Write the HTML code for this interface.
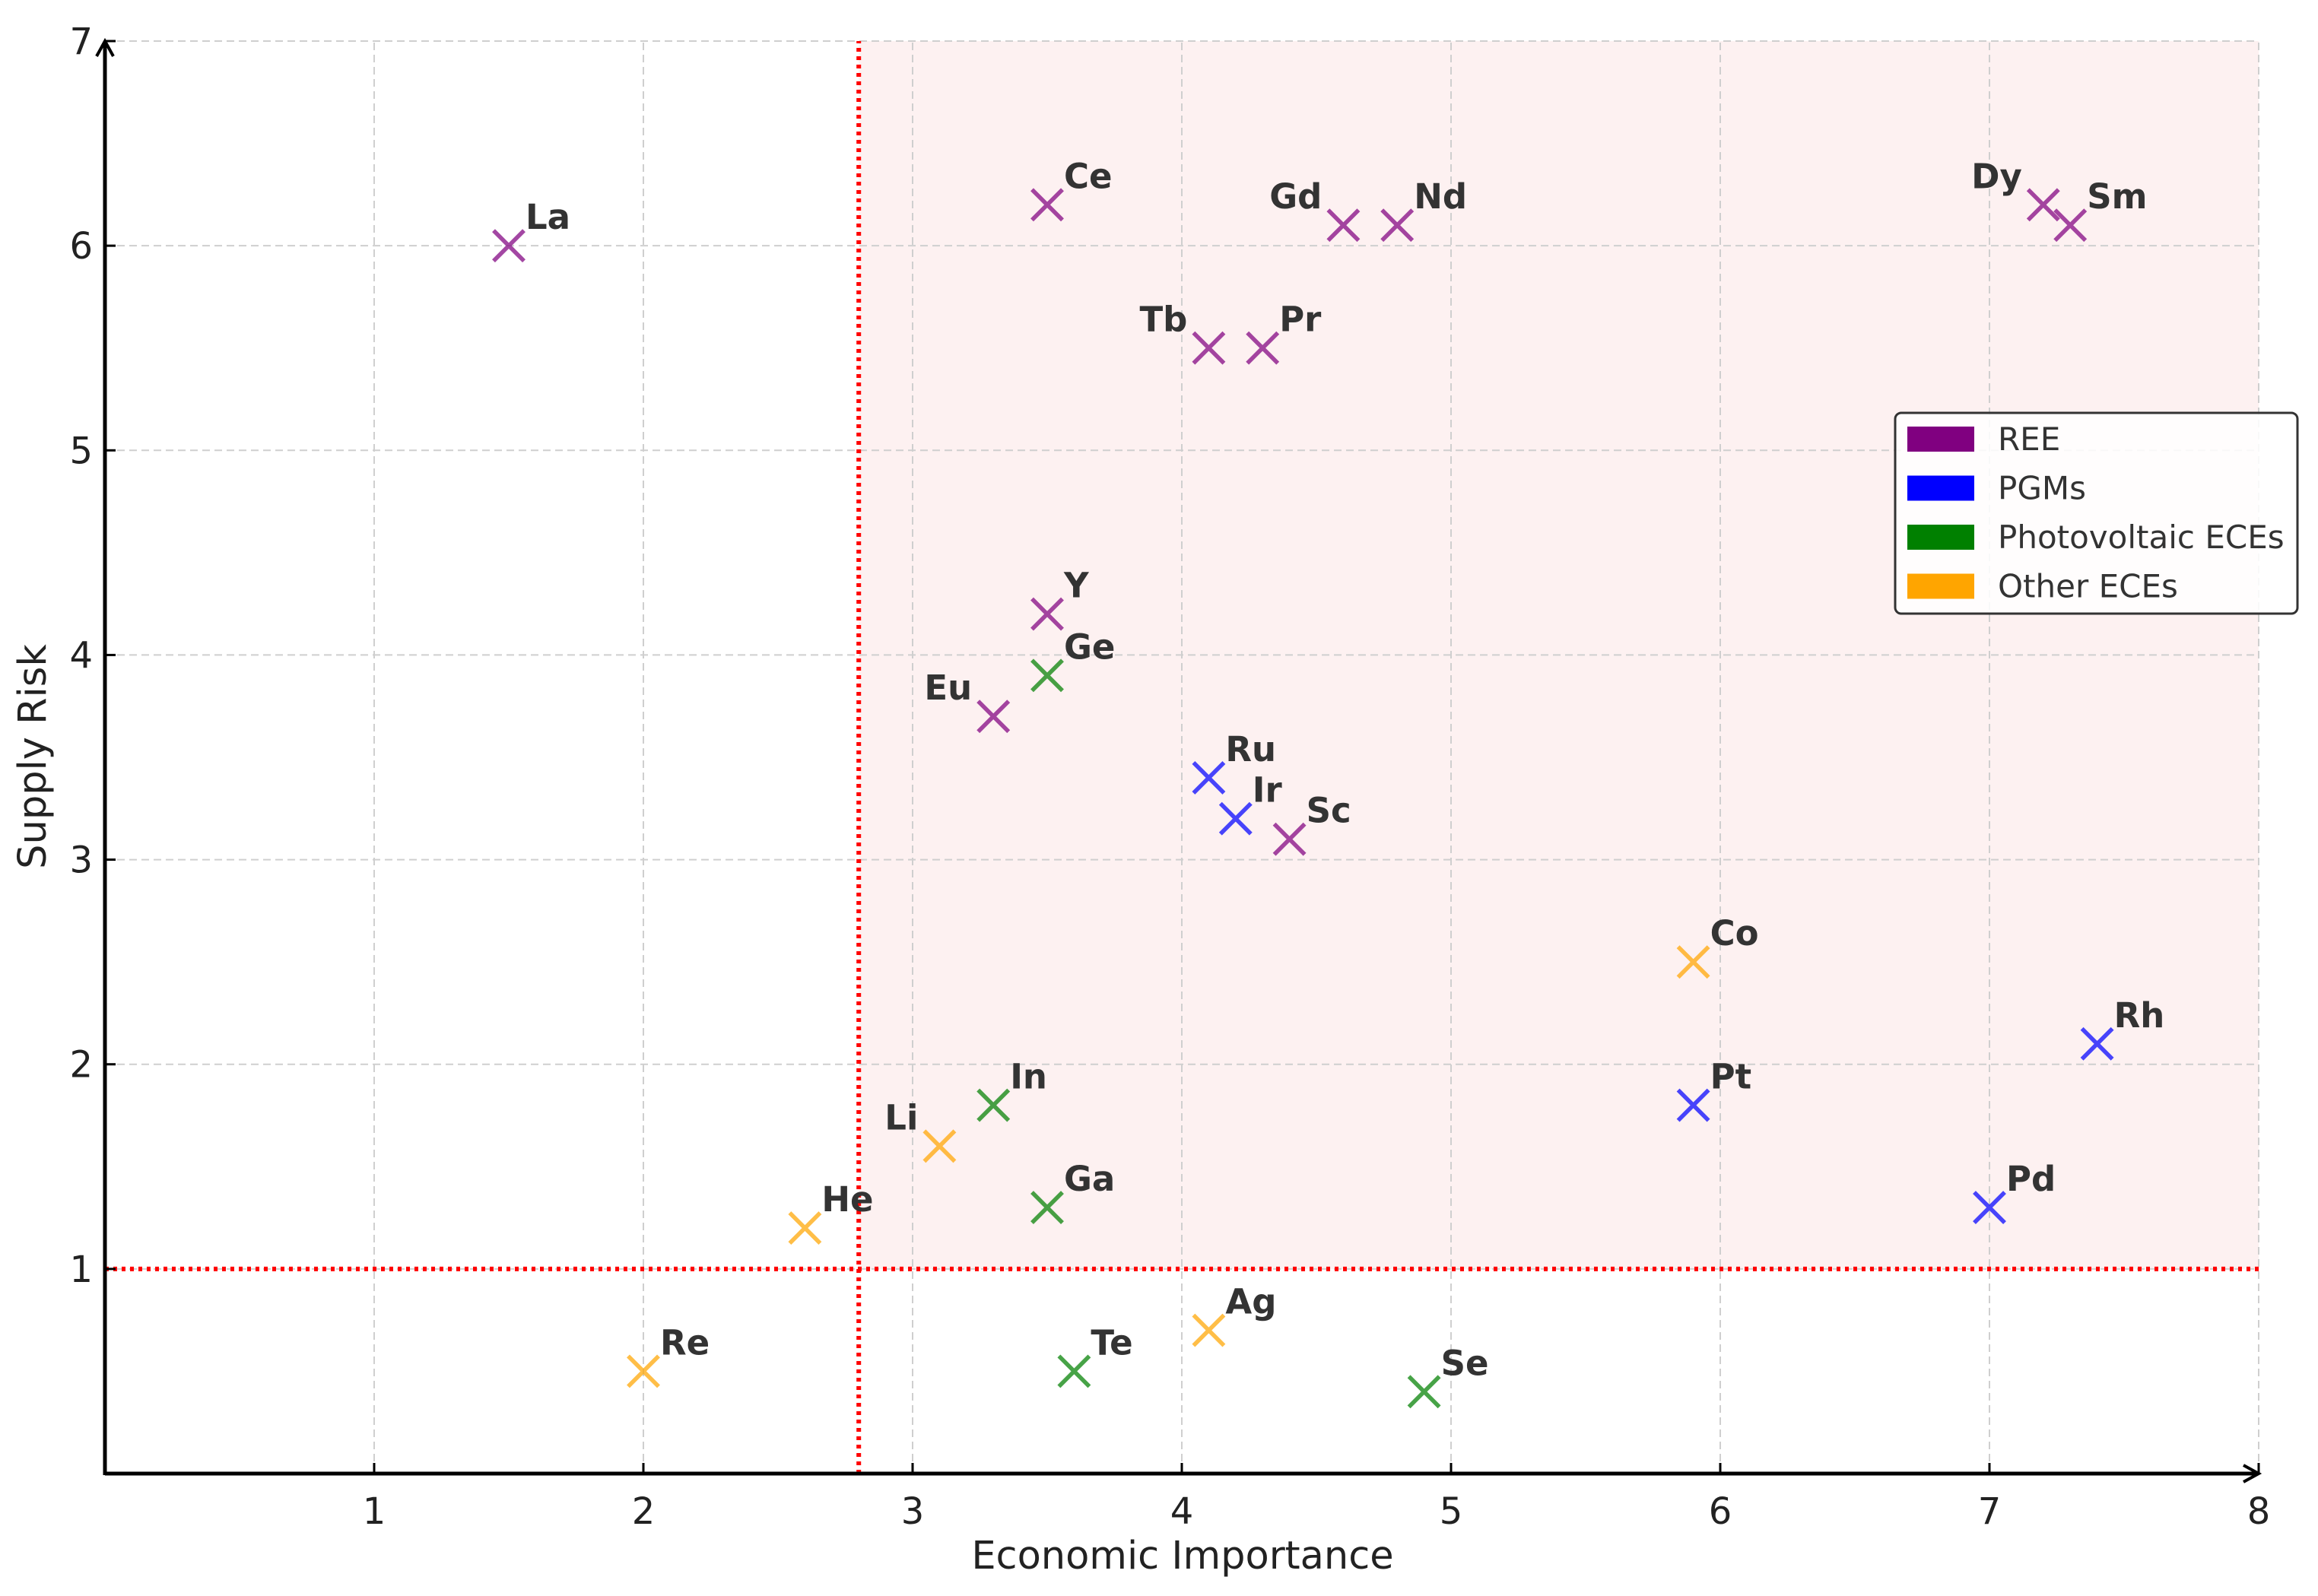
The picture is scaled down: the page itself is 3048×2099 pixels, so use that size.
<!DOCTYPE html>
<html><head><meta charset="utf-8"><style>
html,body{margin:0;padding:0;background:#fff;}
svg{display:block;font-family:"DejaVu Sans","Liberation Sans",sans-serif;}
</style></head><body>
<svg id="chart" width="3048" height="2099" viewBox="0 0 3048 2099" xmlns="http://www.w3.org/2000/svg"></svg>
<script>
const reeNames=["La","Ce","Gd","Nd","Dy","Sm","Tb","Pr","Y","Eu","Sc"];
const reeX=[1.5,3.5,4.6,4.8,7.2,7.3,4.1,4.3,3.5,3.3,4.4];
const reeY=[6.0,6.2,6.1,6.1,6.2,6.1,5.5,5.5,4.2,3.7,3.1];
const pgmNames=["Ru","Ir","Rh","Pt","Pd"];
const pgmX=[4.1,4.2,7.4,5.9,7.0];
const pgmY=[3.4,3.2,2.1,1.8,1.3];
const pvNames=["Ge","In","Ga","Te","Se"];
const pvX=[3.5,3.3,3.5,3.6,4.9];
const pvY=[3.9,1.8,1.3,0.5,0.4];
const otherNames=["Co","Li","He","Re","Ag"];
const otherX=[5.9,3.1,2.6,2.0,4.1];
const otherY=[2.5,1.6,1.2,0.5,0.7];
const leftLabels=["Gd","Tb","Eu","Li","Dy"];
const xTicks=[1,2,3,4,5,6,7,8];
const yTicks=[1,2,3,4,5,6,7];
const thresholdX=2.8;
const thresholdY=1;
const legendLabels=["REE","PGMs","Photovoltaic ECEs","Other ECEs"];

const X0=138,X1=2970,Y0=1938,Y1=54,XMAX=8,YMAX=7;
function sx(v){return X0+(X1-X0)*v/XMAX;}
function sy(v){return Y0-(Y0-Y1)*v/YMAX;}
const NS="http://www.w3.org/2000/svg";
const svg=document.getElementById('chart');
function el(tag,attrs,parent){const e=document.createElementNS(NS,tag);for(const k in attrs)e.setAttribute(k,attrs[k]);(parent||svg).appendChild(e);return e;}

let r=el('rect',{x:sx(thresholdX),y:sy(YMAX),width:sx(XMAX)-sx(thresholdX),height:sy(thresholdY)-sy(YMAX),fill:'#fdf1f1'});



xTicks.forEach(t=>{const g=el('line',{x1:sx(t),x2:sx(t),y1:sy(0),y2:sy(YMAX),stroke:'#cfcfcf','stroke-width':2,'stroke-dasharray':'10,6'});

});
yTicks.forEach(t=>{const g=el('line',{x1:sx(0),x2:sx(XMAX),y1:sy(t),y2:sy(t),stroke:'#cfcfcf','stroke-width':2,'stroke-dasharray':'10,6'});

});

let tx=el('line',{x1:sx(thresholdX),x2:sx(thresholdX),y1:sy(0),y2:sy(YMAX),stroke:'#ff0000','stroke-width':6,'stroke-dasharray':'5,6'});


let ty=el('line',{x1:sx(0),x2:sx(XMAX),y1:sy(thresholdY),y2:sy(thresholdY),stroke:'#ff0000','stroke-width':6,'stroke-dasharray':'5,6'});



let ax=el('line',{x1:sx(0),x2:sx(XMAX)-2,y1:sy(0),y2:sy(0),stroke:'#000','stroke-width':5});


let ay=el('line',{x1:sx(0),x2:sx(0),y1:sy(0)+2,y2:sy(YMAX)+2,stroke:'#000','stroke-width':5});


let axa=el('path',{d:`M${sx(XMAX)-20},${sy(0)-11} L${sx(XMAX)},${sy(0)} L${sx(XMAX)-20},${sy(0)+11}`,fill:'none',stroke:'#000','stroke-width':4});


let aya=el('path',{d:`M${sx(0)-11},${sy(YMAX)+20} L${sx(0)},${sy(YMAX)} L${sx(0)+11},${sy(YMAX)+20}`,fill:'none',stroke:'#000','stroke-width':4});



xTicks.forEach(t=>{
 const tk=el('line',{x1:sx(t),x2:sx(t),y1:sy(0),y2:sy(0)-14,stroke:'#000','stroke-width':3});
 
 
 const tl=el('text',{x:sx(t),y:sy(0)+66,'text-anchor':'middle','font-size':48,fill:'#222'});
 tl.textContent=t;
 
 
});
yTicks.forEach(t=>{
 const tk=el('line',{x1:sx(0),x2:sx(0)+14,y1:sy(t),y2:sy(t),stroke:'#000','stroke-width':3});
 
 
 const tl=el('text',{x:sx(0)-16,y:sy(t)+17,'text-anchor':'end','font-size':48,fill:'#222'});
 tl.textContent=t;
 
 
});

let xt=el('text',{x:1555,y:2063,'text-anchor':'middle','font-size':51,fill:'#222'});
xt.textContent='Economic Importance';


let yt=el('text',{x:0,y:0,'text-anchor':'middle','font-size':51,fill:'#222',transform:'translate(60,995) rotate(-90)'});
yt.textContent='Supply Risk';



function drawSeries(names,xs,ys,color,key){
 names.forEach((n,i)=>{
  const cx=sx(xs[i]),cy=sy(ys[i]),h=20;
  const g=el('g',{});
  
  
  el('path',{d:`M${cx-h},${cy-h} L${cx+h},${cy+h} M${cx-h},${cy+h} L${cx+h},${cy-h}`,stroke:color,'stroke-width':5.5,'stroke-opacity':0.72,fill:'none'},g);
  const left=leftLabels.includes(n);
  const t=el('text',{x:left?cx-28:cx+22,y:cy-22,'text-anchor':left?'end':'start','font-size':45,'font-weight':'bold',fill:'#333'},g);
  t.textContent=n;
  
  
 });
}
drawSeries(reeNames,reeX,reeY,'#800080','ree');
drawSeries(pgmNames,pgmX,pgmY,'#0000ff','pgm');
drawSeries(pvNames,pvX,pvY,'#008000','pv');
drawSeries(otherNames,otherX,otherY,'#ffa500','other');

const legColors=['#800080','#0000ff','#008000','#ffa500'];
const lg=el('g',{});


el('rect',{x:2492,y:543,width:529,height:264,rx:8,fill:'#fff','fill-opacity':0.85,stroke:'#333','stroke-width':3},lg);
legendLabels.forEach((lab,i)=>{
 const yy=577+i*64.5;
 const e=el('g',{},lg);
 
 
 el('rect',{x:2508,y:yy-16,width:88,height:33,fill:legColors[i]},e);
 const t=el('text',{x:2627,y:yy+15,'font-size':42,fill:'#333'},e);
 t.textContent=lab;
});
</script>
</body></html>
